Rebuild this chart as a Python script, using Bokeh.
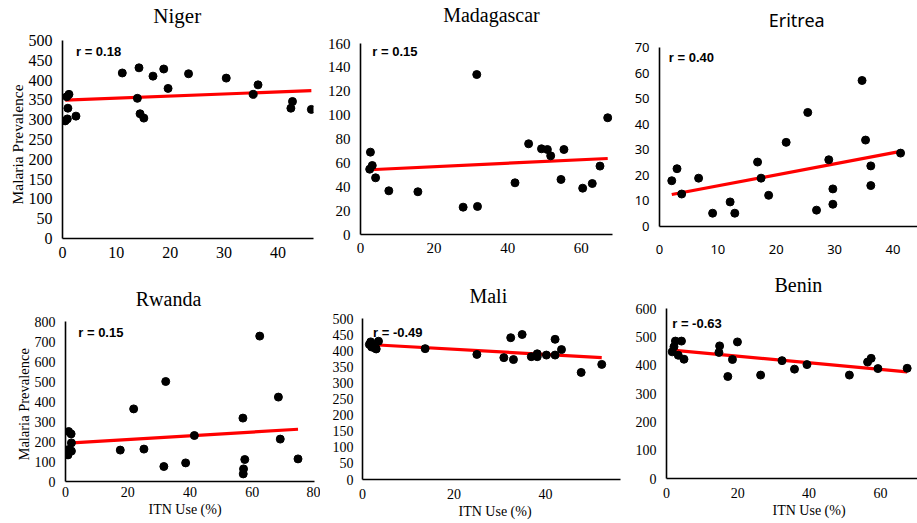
from bokeh.plotting import figure
from bokeh.layouts import column, row
from bokeh.models import Label, FixedTicker, Range1d, Title
from bokeh.embed import file_html
from bokeh.resources import INLINE

# ---------------- data ----------------
niger_itn = [0.5, 0.9, 1.0, 0.8, 1.2, 2.5, 11.1, 14.2, 13.9, 14.4, 15.1, 16.8, 18.8, 19.6, 23.4, 30.4, 35.4, 36.3, 42.4, 42.7, 46.2]
niger_prev = [297, 302, 329, 358, 364, 309, 418, 431, 354, 315, 304, 410, 428, 379, 416, 405, 364, 388, 329, 346, 326]
niger_fit = [349, 0.53]          # intercept, slope
niger_r = "r = 0.18"

mada_itn = [2.5, 2.7, 3.2, 4.1, 7.7, 15.6, 27.9, 31.6, 31.8, 42.0, 45.7, 49.2, 50.8, 51.7, 55.3, 54.5, 60.4, 63.0, 65.1, 67.2]
mada_prev = [54.7, 69, 57.8, 47.5, 36.6, 35.8, 22.9, 134, 23.5, 43.3, 76, 71.8, 71.2, 65.9, 71.2, 46.1, 38.8, 42.7, 57.3, 97.8]
mada_fit = [53.9, 0.145]
mada_r = "r = 0.15"

eri_itn = [2.1, 3.0, 3.8, 6.7, 9.1, 12.1, 12.9, 16.8, 17.4, 18.7, 21.7, 25.4, 26.9, 29.0, 29.7, 29.7, 34.7, 35.3, 36.2, 36.2, 41.3]
eri_prev = [17.9, 22.6, 12.7, 18.9, 5.2, 9.6, 5.2, 25.2, 18.9, 12.2, 32.9, 44.6, 6.4, 26.1, 14.7, 8.7, 57.1, 33.8, 23.7, 16.0, 28.7]
eri_fit = [11.6, 0.43]
eri_r = "r = 0.40"

rwa_itn = [0.8, 1.0, 1.9, 1.9, 1.0, 1.8, 17.6, 21.9, 25.2, 31.6, 32.2, 38.6, 41.4, 57.0, 57.1, 57.2, 57.6, 62.4, 68.4, 69.0, 74.7]
rwa_prev = [133, 160, 152, 193, 250, 238, 157, 363, 162, 75, 500, 93, 230, 317, 38, 63, 110, 727, 422, 212, 113]
rwa_fit = [191, 0.94]
rwa_r = "r = 0.15"

mali_itn = [1.5, 1.8, 2.0, 2.5, 3.0, 3.5, 2.8, 13.7, 25.0, 30.9, 32.4, 33.0, 34.9, 36.9, 38.2, 38.2, 40.2, 42.1, 42.1, 43.5, 47.8, 52.3]
mali_prev = [420, 428, 412, 418, 406, 430, 408, 407, 389, 379, 441, 373, 451, 382, 391, 382, 387, 436, 387, 404, 333, 358]
mali_fit = [421, -0.80]
mali_r = "r = -0.49"

benin_itn = [1.6, 2.1, 2.5, 3.3, 4.2, 4.9, 14.9, 14.7, 18.5, 19.9, 17.2, 26.4, 32.4, 35.9, 39.4, 51.3, 56.4, 57.4, 59.3, 67.5]
benin_prev = [447, 465, 485, 435, 485, 421, 468, 445, 420, 482, 360, 365, 416, 386, 402, 365, 411, 424, 388, 389]
benin_fit = [455, -1.165]
benin_r = "r = -0.63"

x_label = "ITN Use (%)"
y_label = "Malaria Prevalence"

SERIF = "Liberation Serif"
SANS = "Noto Sans"


def panel(title, tpos, xs, ys, fit, rtext, rpos, xmax, ymax, xstep, ystep,
          w, h, bl, br, top_px, axis_h, bb, font, title_size, tick_size,
          ylab=None, ylab_offset=0, ylab_standoff=0, ylab_size="15px",
          xlab=None, xlab_offset=0, xlab_standoff=0, xlab_size="14px",
          ytick_standoff=9, xtick_standoff=6):
    # the plotting frame reaches the top of the figure so the title fits inside it;
    # the y axis itself is limited to [0, ymax]
    ytop = ymax * (axis_h + top_px) / axis_h
    p = figure(width=w, height=h, output_backend="svg", toolbar_location=None,
               x_range=Range1d(0, xmax), y_range=Range1d(0, ytop),
               min_border_left=bl, min_border_right=br,
               min_border_top=0, min_border_bottom=bb, frame_align=False)
    p.outline_line_color = None
    p.grid.visible = False
    p.background_fill_color = "white"
    p.border_fill_color = "white"
    p.xaxis.ticker = FixedTicker(ticks=list(range(0, int(xmax) + 1, xstep)))
    p.yaxis.ticker = FixedTicker(ticks=list(range(0, int(ymax) + 1, ystep)))
    p.yaxis.bounds = (0, ymax)
    for ax in (p.xaxis[0], p.yaxis[0]):
        ax.axis_line_color = "black"
        ax.axis_line_width = 1.6
        ax.major_tick_line_color = None
        ax.minor_tick_line_color = None
        ax.major_tick_out = 0
        ax.major_tick_in = 0
        ax.major_label_text_font = font
        ax.major_label_text_font_size = tick_size
        ax.major_label_text_color = "black"
    p.xaxis.major_label_standoff = xtick_standoff
    p.yaxis.major_label_standoff = ytick_standoff
    if ylab:
        p.add_layout(Title(text=ylab, align="left", offset=ylab_offset,
                           standoff=ylab_standoff, text_font=font,
                           text_font_size=ylab_size, text_font_style="normal",
                           text_color="black"), "left")
    if xlab:
        p.add_layout(Title(text=xlab, align="left", offset=xlab_offset,
                           standoff=xlab_standoff, text_font=font,
                           text_font_size=xlab_size, text_font_style="normal",
                           text_color="black"), "below")
    x0, x1 = min(xs), max(xs)
    p.line([x0, x1], [fit[0] + fit[1] * x0, fit[0] + fit[1] * x1],
           line_color="#ff0000", line_width=3.2)
    p.scatter(xs, ys, size=8, fill_color="black", line_color="black")
    p.add_layout(Label(x=rpos[0], y=rpos[1], text=rtext, text_baseline="middle",
                       text_font="Liberation Sans", text_font_style="bold",
                       text_font_size="13px", text_color="black"))
    p.add_layout(Label(x=tpos[0], y=tpos[1], text=title, text_align="center",
                       text_baseline="middle", text_font=font,
                       text_font_size=title_size, text_color="black"))
    return p


p1 = panel("Niger", (21.3, 563), niger_itn, niger_prev, niger_fit, niger_r, (2.5, 472),
           46.6, 500, 10, 50, 320, 274, 62, 7, 40, 198, 36, SERIF, "21px", "16px",
           ylab=y_label, ylab_offset=34, ylab_standoff=0, ylab_size="15.5px",
           ytick_standoff=10, xtick_standoff=8)
p4 = panel("Rwanda", (33.1, 912), rwa_itn, rwa_prev, rwa_fit, rwa_r, (4.1, 746),
           80, 800, 20, 100, 320, 249, 65, 6, 47, 160, 42, SERIF, "20px", "14px",
           ylab=y_label, ylab_offset=21, ylab_standoff=0, ylab_size="14.5px",
           xlab=x_label, xlab_offset=83, xlab_standoff=0, xlab_size="14px",
           ytick_standoff=10, xtick_standoff=5)
p2 = panel("Madagascar", (35.6, 184), mada_itn, mada_prev, mada_fit, mada_r, (3.2, 153.6),
           68.5, 160, 20, 20, 305, 269, 40, 13, 43, 191, 35, SERIF, "20px", "15px",
           ytick_standoff=10, xtick_standoff=8)
p5 = panel("Mali", (27.5, 572), mali_itn, mali_prev, mali_fit, mali_r, (2.3, 456),
           56.4, 500, 20, 50, 305, 254, 42, 5, 49, 160, 44, SERIF, "20px", "14px",
           xlab=x_label, xlab_offset=96, xlab_standoff=0, xlab_size="14px",
           ytick_standoff=9, xtick_standoff=9)
p3 = panel("Eritrea", (23.5, 80.6), eri_itn, eri_prev, eri_fit, eri_r, (1.6, 66),
           44.2, 70, 10, 10, 292, 271, 34, 0, 47, 179, 45, SANS, "18px", "13px",
           ytick_standoff=10, xtick_standoff=18)
p6 = panel("Benin", (37.0, 682), benin_itn, benin_prev, benin_fit, benin_r, (1.6, 547),
           70.4, 600, 20, 100, 292, 252, 41, 0, 37, 170, 45, SERIF, "20px", "14px",
           xlab=x_label, xlab_offset=106, xlab_standoff=0, xlab_size="14px",
           ytick_standoff=10, xtick_standoff=9)

layout = row(column(p1, p4), column(p2, p5), column(p3, p6))
open("out.html", "w").write(file_html(layout, INLINE))
